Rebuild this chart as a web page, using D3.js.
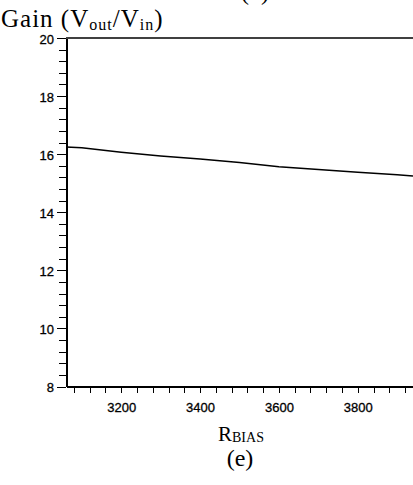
<!DOCTYPE html>
<html>
  <head>
    <script src="https://d3js.org/d3.v7.min.js"></script>
    <style>
      body { margin: 0; background: #fff; }
      .axis text { font-family: "Liberation Sans", Arial, sans-serif; font-size: 13px; fill: #000; stroke: #000; stroke-width: 0.3px; }
      .axis path, .axis line { stroke: #000; shape-rendering: crispEdges; }
      .serif { font-family: "Liberation Serif", "Times New Roman", serif; fill: #000; }
    </style>
  </head>
  <body>
    <svg width="413" height="485"></svg>
    <script>
      // gain vs bias resistor
      const rBias = [3060, 3100, 3200, 3300, 3400, 3500, 3600, 3700, 3800, 3900, 3940];
      const gain  = [16.25, 16.22, 16.07, 15.94, 15.83, 15.71, 15.57, 15.47, 15.38, 15.29, 15.25];
      const xLabels = [3200, 3400, 3600, 3800];
      const yLabels = [8, 10, 12, 14, 16, 18, 20];

      const data = rBias.map((r, i) => ({ r: r, g: gain[i] }));

      const plotLeft = 66, plotRight = 413, plotTop = 38, plotBottom = 386.5;

      const svg = d3.select("svg");

      const x = d3.scaleLinear().domain([3060, 3940]).range([plotLeft, plotRight]);
      const y = d3.scaleLinear().domain([8, 20]).range([plotBottom, plotTop]);

      // minor ticks every 40 on x, every 0.4 on y
      const xTicks = d3.range(3080, 3921, 40);
      const yTicks = d3.range(0, 31).map(i => +(8 + i * 0.4).toFixed(1));

      const xAxis = d3.axisBottom(x)
          .tickValues(xTicks)
          .tickSize(6)
          .tickPadding(10)
          .tickSizeOuter(0)
          .tickFormat(d => xLabels.includes(d) ? d : "");

      const yAxis = d3.axisLeft(y)
          .tickValues(yTicks)
          .tickSize(7)
          .tickPadding(6)
          .tickSizeOuter(0)
          .tickFormat(d => yLabels.includes(d) ? d : "");

      const gx = svg.append("g")
          .attr("class", "axis")
          .attr("transform", `translate(0,${plotBottom})`)
          .call(xAxis);
      gx.select(".domain").attr("stroke-width", 1.5);

      const gy = svg.append("g")
          .attr("class", "axis")
          .attr("transform", `translate(${plotLeft},0)`)
          .call(yAxis);
      gy.select(".domain").attr("stroke-width", 2);
      // labelled ticks a bit longer
      gy.selectAll(".tick")
          .filter(d => yLabels.includes(d))
          .select("line").attr("x2", -9);
      gy.selectAll(".tick text").attr("x", -12).attr("dy", "0.4em");

      // top frame line
      svg.append("line")
          .attr("x1", x(3060)).attr("x2", x(3940))
          .attr("y1", y(20)).attr("y2", y(20))
          .attr("stroke", "#000")
          .attr("stroke-width", 1.5);

      const line = d3.line()
          .x(d => x(d.r))
          .y(d => y(d.g));

      svg.append("path")
          .datum(data)
          .attr("d", line)
          .attr("fill", "none")
          .attr("stroke", "#000")
          .attr("stroke-width", 1.5);

      // y title
      const t = svg.append("text")
          .attr("class", "serif")
          .attr("x", 1).attr("y", 27)
          .style("font-size", "25px")
          .style("letter-spacing", "1px");
      t.append("tspan").text("Gain (V");
      t.append("tspan").attr("dy", 3).style("font-size", "16px").text("out");
      t.append("tspan").attr("dy", -3).text("/V");
      t.append("tspan").attr("dy", 3).style("font-size", "16px").text("in");
      t.append("tspan").attr("dy", -3).text(")");

      // x title
      const xt = svg.append("text")
          .attr("class", "serif")
          .attr("x", 218).attr("y", 441)
          .style("font-size", "21px");
      xt.append("tspan").text("R");
      xt.append("tspan").attr("dy", 1).style("font-size", "14px").text("BIAS");

      svg.append("text")
          .attr("class", "serif")
          .attr("x", 240).attr("y", 466)
          .attr("text-anchor", "middle")
          .style("font-size", "24px")
          .text("(e)");

      // caption of the panel above, mostly cut off
      svg.append("text")
          .attr("class", "serif")
          .attr("x", 255).attr("y", 0)
          .attr("text-anchor", "middle")
          .style("font-size", "24px")
          .text("(d)");
    </script>
  </body>
</html>
